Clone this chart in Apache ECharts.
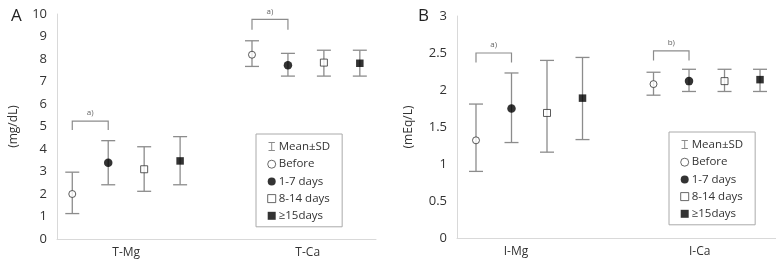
<!DOCTYPE html>
<html><head><meta charset="utf-8">
<script src="https://cdn.jsdelivr.net/npm/echarts@6/dist/echarts.min.js"></script>
<style>html,body{margin:0;padding:0;background:#fff}#c{width:776px;height:263px}</style>
</head><body><div id="c"></div>
<script>
// ---- data ----
const groups = ['Before', '1-7 days', '8-14 days', '≥15days'];
const categoriesA = ['T-Mg', 'T-Ca'];
const categoriesB = ['I-Mg', 'I-Ca'];
// panel A (mg/dL): per category, values for the four groups
const meanTMg = [2.00, 3.39, 3.10, 3.47];
const lowTMg  = [1.13, 2.41, 2.12, 2.41];
const highTMg = [2.97, 4.37, 4.10, 4.55];
const meanTCa = [8.19, 7.72, 7.84, 7.81];
const lowTCa  = [7.67, 7.24, 7.24, 7.24];
const highTCa = [8.81, 8.25, 8.39, 8.39];
// panel B (mEq/L)
const meanIMg = [1.32, 1.75, 1.69, 1.89];
const lowIMg  = [0.90, 1.29, 1.16, 1.33];
const highIMg = [1.81, 2.23, 2.40, 2.44];
const meanICa = [2.08, 2.12, 2.12, 2.14];
const lowICa  = [1.93, 1.98, 1.98, 1.98];
const highICa = [2.24, 2.28, 2.28, 2.28];
// significance brackets: [category, groupFrom, groupTo, top, bottom, label]
const bracketsA = [[0, 0, 1, 5.24, 4.84, 'a)'], [1, 0, 1, 9.76, 9.30, 'a)']];
const bracketsB = [[0, 0, 1, 2.50, 2.37, 'a)'], [1, 0, 1, 2.53, 2.40, 'b)']];
const yTicksA = [0, 10, 1];
const yTicksB = [0, 3, 0.5];

// ---- styling / layout ----
const FONT = 'Open Sans';
const offsets = [-0.3, -0.1, 0.1, 0.3];
const symStyles = [
  {symbol: 'circle', size: 7, itemStyle: {color: '#fff', borderColor: '#333', borderWidth: 1}},
  {symbol: 'circle', size: 8.5, itemStyle: {color: '#000', borderColor: '#000', borderWidth: 0}},
  {symbol: 'rect', size: 7, itemStyle: {color: '#fff', borderColor: '#333', borderWidth: 1}},
  {symbol: 'rect', size: 7.5, itemStyle: {color: '#000', borderColor: '#000', borderWidth: 0}}
];
const ERR = '#8c8c8c';

function errSeries(gi, means, lows, highs) {
  const data = [];
  means.forEach((m, ci) => m.forEach((v, g) => data.push([ci + offsets[g], lows[ci][g], highs[ci][g]])));
  return {
    name: 'Mean±SD', type: 'custom', xAxisIndex: gi, yAxisIndex: gi, z: 1,
    itemStyle: {color: ERR},
    encode: {x: 0, y: [1, 2]},
    renderItem: (params, api) => {
      const x = api.value(0);
      const lo = api.coord([x, api.value(1)]);
      const hi = api.coord([x, api.value(2)]);
      const hw = 7;
      const st = {stroke: ERR, lineWidth: 1.3};
      return {type: 'group', children: [
        {type: 'line', shape: {x1: lo[0], y1: lo[1], x2: hi[0], y2: hi[1]}, style: st},
        {type: 'line', shape: {x1: lo[0] - hw, y1: lo[1], x2: lo[0] + hw, y2: lo[1]}, style: st},
        {type: 'line', shape: {x1: hi[0] - hw, y1: hi[1], x2: hi[0] + hw, y2: hi[1]}, style: st}
      ]};
    },
    data: data
  };
}
function pointSeries(gi, means) {
  return groups.map((gname, g) => ({
    name: gname, type: 'scatter', xAxisIndex: gi, yAxisIndex: gi, z: 3,
    symbol: symStyles[g].symbol, symbolSize: symStyles[g].size,
    itemStyle: symStyles[g].itemStyle,
    data: means.map((m, ci) => [ci + offsets[g], m[g]])
  }));
}
function bracketSeries(gi, brackets) {
  return {
    type: 'custom', xAxisIndex: gi, yAxisIndex: gi, z: 2, silent: true,
    data: brackets.map(b => [b[0] + offsets[b[1]], b[0] + offsets[b[2]], b[3], b[4]]),
    renderItem: (params, api) => {
      const x1 = api.value(0), x2 = api.value(1), top = api.value(2), bot = api.value(3);
      const p1 = api.coord([x1, bot]), p2 = api.coord([x1, top]);
      const p3 = api.coord([x2, top]), p4 = api.coord([x2, bot]);
      const lab = brackets[params.dataIndex][5];
      return {type: 'group', children: [
        {type: 'polyline', shape: {points: [p1, p2, p3, p4]}, style: {stroke: ERR, lineWidth: 1.2, fill: 'none'}},
        {type: 'text', x: (p2[0] + p3[0]) / 2, y: p2[1] - 4,
         style: {text: lab, fill: '#666', font: '8px ' + FONT, align: 'center', verticalAlign: 'bottom'}}
      ]};
    }
  };
}

const legendData = [
  {name: 'Mean±SD', icon: 'path://M0,0 L8,0 M4,0 L4,10 M0,10 L8,10', itemStyle: {color: 'none', borderColor: ERR, borderWidth: 1}},
  {name: 'Before', icon: 'circle', itemStyle: {color: '#fff', borderColor: '#444', borderWidth: 1}},
  {name: '1-7 days', icon: 'circle', itemStyle: {color: '#000'}},
  {name: '8-14 days', icon: 'rect', itemStyle: {color: '#fff', borderColor: '#444', borderWidth: 1}},
  {name: '≥15days', icon: 'rect', itemStyle: {color: '#000'}}
];
function legend(left, top, w) {
  return {
    orient: 'vertical', left: left, top: top, width: w,
    data: legendData, itemWidth: 8, itemHeight: 8, itemGap: 5.2,
    padding: [6, 12, 5, 10], borderColor: '#aaa', borderWidth: 1,
    textStyle: {fontFamily: FONT, fontSize: 11.5, color: '#333', padding: [0, 0, 0, -2]},
    selectedMode: false
  };
}
function yAxis(gi, t, name) {
  return {
    type: 'value', gridIndex: gi, min: t[0], max: t[1], interval: t[2],
    name: name, nameLocation: 'middle', nameRotate: 90, nameGap: gi === 0 ? 37 : 42,
    nameTextStyle: {fontFamily: FONT, fontSize: 12, color: '#333'},
    axisLine: {show: true, onZero: false, lineStyle: {color: '#d9d9d9', width: 1}},
    axisTick: {show: false}, splitLine: {show: false},
    axisLabel: {fontFamily: FONT, fontSize: 13, color: '#333', margin: 10}
  };
}
function xAxis(gi, min, max, cats, labelPos) {
  return {
    type: 'value', gridIndex: gi, min: min, max: max,
    axisLine: {show: true, onZero: false, lineStyle: {color: '#d9d9d9', width: 1}},
    axisTick: {show: false}, splitLine: {show: false},
    axisLabel: {
      fontFamily: FONT, fontSize: 12, color: '#333', margin: 8, customValues: labelPos,
      formatter: v => { const i = labelPos.findIndex(p => Math.abs(p - v) < 1e-6); return i >= 0 ? cats[i] : ''; }
    }
  };
}

const chart = echarts.init(document.getElementById('c'), null, {renderer: 'canvas'});
const meansA = [meanTMg, meanTCa], lowsA = [lowTMg, lowTCa], highsA = [highTMg, highTCa];
const meansB = [meanIMg, meanICa], lowsB = [lowIMg, lowICa], highsB = [highIMg, highICa];
chart.setOption({
  animation: false,
  backgroundColor: '#fff',
  title: [
    {text: 'A', left: 6, top: 3, textStyle: {fontFamily: FONT, fontSize: 17, fontWeight: 'normal', color: '#222'}},
    {text: 'B', left: 413, top: 3, textStyle: {fontFamily: FONT, fontSize: 17, fontWeight: 'normal', color: '#222'}}
  ],
  grid: [
    {left: 57, top: 14, width: 319, bottom: 24},
    {left: 457, top: 16, width: 319, bottom: 25}
  ],
  xAxis: [
    xAxis(0, -0.385, 1.39, categoriesA, [0, 1.01]),
    xAxis(1, -0.407, 1.39, categoriesB, [-0.075, 0.96])
  ],
  yAxis: [yAxis(0, yTicksA, '(mg/dL)'), yAxis(1, yTicksB, '(mEq/L)')],
  legend: [legend(256, 134, 83), legend(669, 132, 85)],
  series: [
    errSeries(0, meansA, lowsA, highsA),
    ...pointSeries(0, meansA),
    bracketSeries(0, bracketsA),
    errSeries(1, meansB, lowsB, highsB),
    ...pointSeries(1, meansB),
    bracketSeries(1, bracketsB)
  ]
});
</script></body></html>
